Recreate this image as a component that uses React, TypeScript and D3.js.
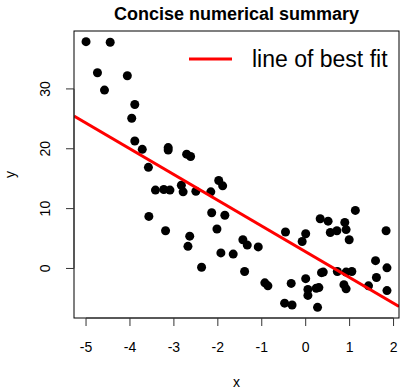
import React from "react";
import * as d3 from "d3";

// Observed sample
const xs: number[] = [
  -5.0, -4.45, -4.74, -4.06, -4.58, -3.89, -3.96, -3.89, -3.72, -3.13, -3.13, -3.58,
  -2.71, -2.62, -3.42, -3.23, -3.09, -2.83, -2.79, -2.5, -2.16, -1.98, -1.89, -3.57,
  -3.19, -2.64, -2.68, -2.14, -1.84, -2.02, -2.37, -1.93, -1.65, -1.43, -1.33, -1.08,
  -1.39, -0.93, -0.86, -0.46, -0.33, -0.48, -0.31, 1.13, 0.33, 0.51, 0.89, 0.56,
  0.71, 0.92, 0.99, 1.83, 0.0, -0.08, 1.59, 1.85, 1.61, 1.85, 1.43, 0.72,
  0.92, 1.05, 0.87, 0.92, 0.36, 0.4, 0.0, 0.05, 0.05, 0.24, 0.3, 0.27,
];
const ys: number[] = [
  37.9, 37.8, 32.7, 32.2, 29.8, 27.4, 25.1, 21.3, 19.9, 20.2, 19.8, 16.9,
  19.1, 18.7, 13.1, 13.2, 13.1, 13.9, 12.8, 12.9, 12.8, 14.7, 13.8, 8.7,
  6.3, 5.4, 3.7, 9.3, 8.9, 6.6, 0.2, 2.6, 2.4, 4.8, 3.9, 3.6,
  -0.5, -2.4, -2.9, 6.1, -2.5, -5.8, -6.1, 9.7, 8.3, 7.9, 7.7, 6.0,
  6.3, 6.5, 4.8, 6.3, 5.8, 4.5, 1.3, 0.1, -1.5, -3.7, -2.9, -0.5,
  -0.6, -0.5, -2.7, -3.4, -0.7, -0.6, -1.7, -3.5, -4.5, -3.3, -3.2, -6.5,
];

// Fitted line y = a + b x
const fitIntercept = 2.8;
const fitSlope = -4.3;

const xTicks = [-5, -4, -3, -2, -1, 0, 1, 2];
const yTicks = [0, 10, 20, 30];

const title = "Concise numerical summary";
const xLabel = "x";
const yLabel = "y";
const legendLabel = "line of best fit";

const W = 400;
const H = 390;
const plot = { left: 74, right: 399, top: 31, bottom: 318 };
const font = "'Liberation Sans', Arial, Helvetica, sans-serif";

// R-style axis range: data extent padded by 4% on each side
function paddedExtent(v: number[]): [number, number] {
  const [lo, hi] = d3.extent(v) as [number, number];
  const pad = (hi - lo) * 0.04;
  return [lo - pad, hi + pad];
}

export default function App() {
  const xDom = paddedExtent(xs);
  const yDom = paddedExtent(ys);
  const x = d3.scaleLinear().domain(xDom).range([plot.left, plot.right]);
  const y = d3.scaleLinear().domain(yDom).range([plot.bottom, plot.top]);

  const lineGen = d3
    .line<number>()
    .x((d) => x(d))
    .y((d) => y(fitIntercept + fitSlope * d));

  const pts = xs.map((v, i) => [v, ys[i]] as [number, number]);
  const tickLen = 8;
  const cx = (plot.left + plot.right) / 2;
  const cy = (plot.top + plot.bottom) / 2;

  return (
    <svg
      width={W}
      height={H}
      style={{ position: "absolute", left: 0, top: 0, background: "#fff" }}
      fontFamily={font}
    >
      <rect x={0} y={0} width={W} height={H} fill="#fff" />
      <defs>
        <clipPath id="plotClip">
          <rect
            x={plot.left}
            y={plot.top}
            width={plot.right - plot.left}
            height={plot.bottom - plot.top}
          />
        </clipPath>
      </defs>

      <text x={cx} y={20} textAnchor="middle" fontSize={18} fontWeight="bold">
        {title}
      </text>

      {/* points */}
      <g fill="#000">
        {pts.map(([a, b], i) => (
          <circle key={i} cx={x(a)} cy={y(b)} r={4.5} />
        ))}
      </g>

      {/* fitted line */}
      <path
        d={lineGen(xDom) ?? ""}
        stroke="#ff0000"
        strokeWidth={3}
        fill="none"
        clipPath="url(#plotClip)"
      />

      {/* frame */}
      <rect
        x={plot.left}
        y={plot.top}
        width={plot.right - plot.left}
        height={plot.bottom - plot.top}
        fill="none"
        stroke="#000"
        strokeWidth={1}
      />

      {/* x axis */}
      <g stroke="#333">
        <line x1={x(xTicks[0])} x2={x(xTicks[xTicks.length - 1])} y1={plot.bottom} y2={plot.bottom} />
        {xTicks.map((t) => (
          <line key={t} x1={x(t)} x2={x(t)} y1={plot.bottom} y2={plot.bottom + tickLen} />
        ))}
      </g>
      {xTicks.map((t) => (
        <text key={t} x={x(t)} y={352} textAnchor="middle" fontSize={14}>
          {t}
        </text>
      ))}
      <text x={cx} y={387} textAnchor="middle" fontSize={14}>
        {xLabel}
      </text>

      {/* y axis */}
      <g stroke="#333">
        <line x1={plot.left} x2={plot.left} y1={y(yTicks[0])} y2={y(yTicks[yTicks.length - 1])} />
        {yTicks.map((t) => (
          <line key={t} x1={plot.left - tickLen} x2={plot.left} y1={y(t)} y2={y(t)} />
        ))}
      </g>
      {yTicks.map((t) => (
        <text
          key={t}
          transform={`translate(50,${y(t)}) rotate(-90)`}
          textAnchor="middle"
          fontSize={14}
        >
          {t}
        </text>
      ))}
      <text transform={`translate(15,${cy}) rotate(-90)`} textAnchor="middle" fontSize={14}>
        {yLabel}
      </text>

      {/* legend */}
      <line x1={189} x2={232} y1={59} y2={59} stroke="#ff0000" strokeWidth={3} />
      <text x={252} y={67} fontSize={23}>
        {legendLabel}
      </text>
    </svg>
  );
}
